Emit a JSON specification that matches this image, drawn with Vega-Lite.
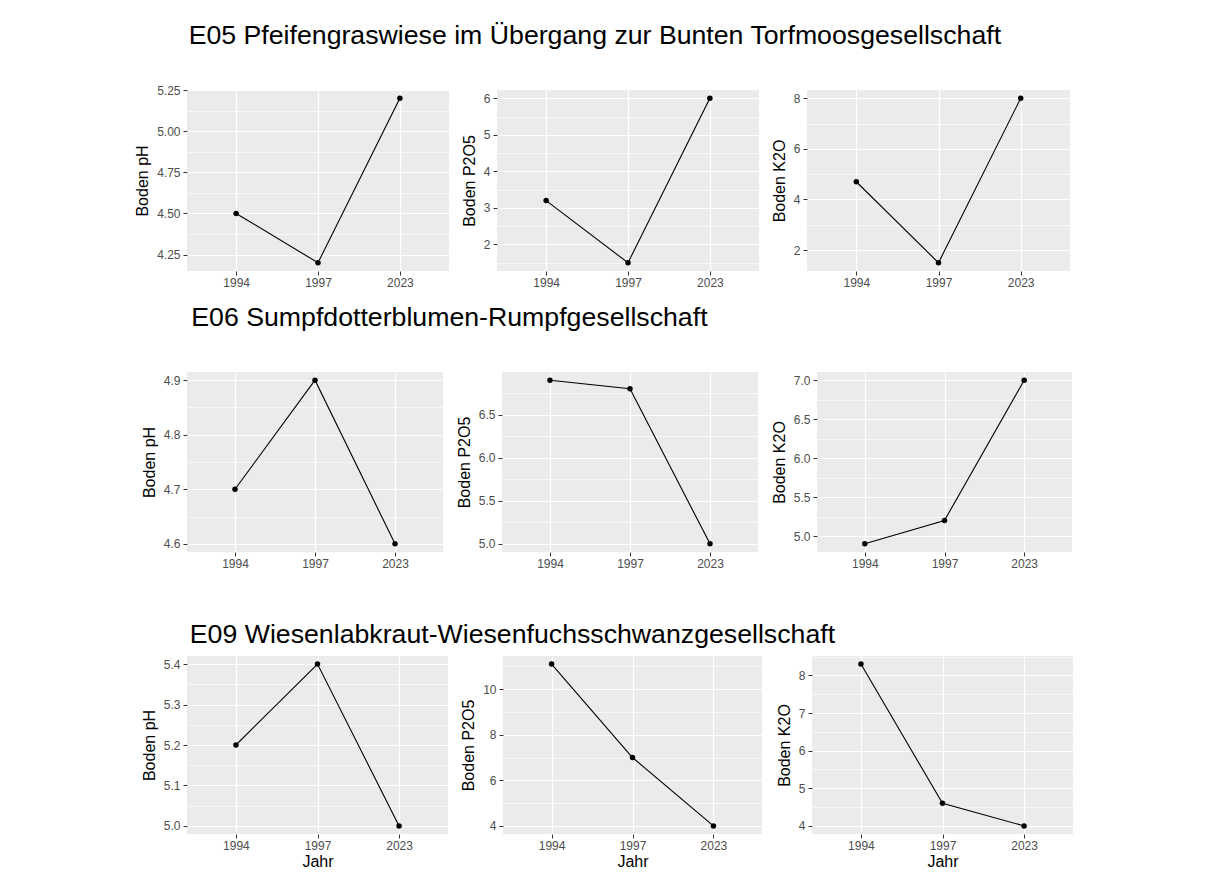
{
  "$schema": "https://vega.github.io/schema/vega-lite/v6.json",
  "background": "white",
  "padding": {"left": 134, "top": 23, "right": 5, "bottom": 5},
  "datasets": {
    "e05": [
      {"Jahr": "1994", "pH": 4.5, "P2O5": 3.2, "K2O": 4.7},
      {"Jahr": "1997", "pH": 4.2, "P2O5": 1.5, "K2O": 1.5},
      {"Jahr": "2023", "pH": 5.2, "P2O5": 6.0, "K2O": 8.0}
    ],
    "e06": [
      {"Jahr": "1994", "pH": 4.7, "P2O5": 6.9, "K2O": 4.9},
      {"Jahr": "1997", "pH": 4.9, "P2O5": 6.8, "K2O": 5.2},
      {"Jahr": "2023", "pH": 4.6, "P2O5": 5.0, "K2O": 7.0}
    ],
    "e09": [
      {"Jahr": "1994", "pH": 5.2, "P2O5": 11.1, "K2O": 8.3},
      {"Jahr": "1997", "pH": 5.4, "P2O5": 7.0, "K2O": 4.6},
      {"Jahr": "2023", "pH": 5.0, "P2O5": 4.0, "K2O": 4.0}
    ]
  },
  "vconcat": [
    {
      "vconcat": [
        {
          "title": {"text": "E05 Pfeifengraswiese im Übergang zur Bunten Torfmoosgesellschaft", "anchor": "start", "fontSize": 26.7, "fontWeight": "normal", "color": "#000000", "offset": 34, "dx": 54},
          "spacing": 12,
          "hconcat": [
            {
              "width": 262, "height": 181,
              "data": {"name": "e05"},
              "encoding": {"x": {"field": "Jahr", "type": "ordinal", "scale": {"type": "point", "padding": 0.6}, "axis": {"title": null, "grid": true}}},
              "layer": [
                {"mark": "line", "encoding": {"y": {"field": "pH", "type": "quantitative", "scale": {"domain": [4.15, 5.25], "zero": false, "nice": false}, "axis": {"title": "Boden pH", "values": [4.25, 4.5, 4.75, 5.0, 5.25], "format": ".2f", "grid": true}}}},
                {"mark": "point", "encoding": {"y": {"field": "pH", "type": "quantitative", "axis": {"orient": "left", "title": null, "values": [4.375, 4.625, 4.875, 5.125], "labels": false, "ticks": false, "domain": false, "grid": true, "gridWidth": 0.6, "minExtent": 0, "maxExtent": 0}}}}
              ],
              "resolve": {"axis": {"y": "independent"}}
            },
            {
              "width": 262, "height": 181,
              "data": {"name": "e05"},
              "encoding": {"x": {"field": "Jahr", "type": "ordinal", "scale": {"type": "point", "padding": 0.6}, "axis": {"title": null, "grid": true}}},
              "layer": [
                {"mark": "line", "encoding": {"y": {"field": "P2O5", "type": "quantitative", "scale": {"domain": [1.275, 6.225], "zero": false, "nice": false}, "axis": {"title": "Boden P2O5", "values": [2, 3, 4, 5, 6], "format": "d", "grid": true}}}},
                {"mark": "point", "encoding": {"y": {"field": "P2O5", "type": "quantitative", "axis": {"orient": "left", "title": null, "values": [1.5, 2.5, 3.5, 4.5, 5.5], "labels": false, "ticks": false, "domain": false, "grid": true, "gridWidth": 0.6, "minExtent": 0, "maxExtent": 0}}}}
              ],
              "resolve": {"axis": {"y": "independent"}}
            },
            {
              "width": 263, "height": 181,
              "data": {"name": "e05"},
              "encoding": {"x": {"field": "Jahr", "type": "ordinal", "scale": {"type": "point", "padding": 0.6}, "axis": {"title": null, "grid": true}}},
              "layer": [
                {"mark": "line", "encoding": {"y": {"field": "K2O", "type": "quantitative", "scale": {"domain": [1.175, 8.325], "zero": false, "nice": false}, "axis": {"title": "Boden K2O", "values": [2, 4, 6, 8], "format": "d", "grid": true}}}},
                {"mark": "point", "encoding": {"y": {"field": "K2O", "type": "quantitative", "axis": {"orient": "left", "title": null, "values": [3, 5, 7], "labels": false, "ticks": false, "domain": false, "grid": true, "gridWidth": 0.6, "minExtent": 0, "maxExtent": 0}}}}
              ],
              "resolve": {"axis": {"y": "independent"}}
            }
          ]
        },
        {
          "title": {"text": "E06 Sumpfdotterblumen-Rumpfgesellschaft", "anchor": "start", "fontSize": 26.7, "fontWeight": "normal", "color": "#000000", "offset": 40, "dx": 50},
          "spacing": 13,
          "hconcat": [
            {
              "width": 256, "height": 180,
              "data": {"name": "e06"},
              "encoding": {"x": {"field": "Jahr", "type": "ordinal", "scale": {"type": "point", "padding": 0.6}, "axis": {"title": null, "grid": true}}},
              "layer": [
                {"mark": "line", "encoding": {"y": {"field": "pH", "type": "quantitative", "scale": {"domain": [4.585, 4.915], "zero": false, "nice": false}, "axis": {"title": "Boden pH", "values": [4.6, 4.7, 4.8, 4.9], "format": ".1f", "grid": true}}}},
                {"mark": "point", "encoding": {"y": {"field": "pH", "type": "quantitative", "axis": {"orient": "left", "title": null, "values": [4.65, 4.75, 4.85], "labels": false, "ticks": false, "domain": false, "grid": true, "gridWidth": 0.6, "minExtent": 0, "maxExtent": 0}}}}
              ],
              "resolve": {"axis": {"y": "independent"}}
            },
            {
              "width": 256, "height": 180,
              "data": {"name": "e06"},
              "encoding": {"x": {"field": "Jahr", "type": "ordinal", "scale": {"type": "point", "padding": 0.6}, "axis": {"title": null, "grid": true}}},
              "layer": [
                {"mark": "line", "encoding": {"y": {"field": "P2O5", "type": "quantitative", "scale": {"domain": [4.905, 6.995], "zero": false, "nice": false}, "axis": {"title": "Boden P2O5", "values": [5.0, 5.5, 6.0, 6.5], "format": ".1f", "grid": true}}}},
                {"mark": "point", "encoding": {"y": {"field": "P2O5", "type": "quantitative", "axis": {"orient": "left", "title": null, "values": [5.25, 5.75, 6.25, 6.75], "labels": false, "ticks": false, "domain": false, "grid": true, "gridWidth": 0.6, "minExtent": 0, "maxExtent": 0}}}}
              ],
              "resolve": {"axis": {"y": "independent"}}
            },
            {
              "width": 255, "height": 180,
              "data": {"name": "e06"},
              "encoding": {"x": {"field": "Jahr", "type": "ordinal", "scale": {"type": "point", "padding": 0.6}, "axis": {"title": null, "grid": true}}},
              "layer": [
                {"mark": "line", "encoding": {"y": {"field": "K2O", "type": "quantitative", "scale": {"domain": [4.795, 7.105], "zero": false, "nice": false}, "axis": {"title": "Boden K2O", "values": [5.0, 5.5, 6.0, 6.5, 7.0], "format": ".1f", "grid": true}}}},
                {"mark": "point", "encoding": {"y": {"field": "K2O", "type": "quantitative", "axis": {"orient": "left", "title": null, "values": [5.25, 5.75, 6.25, 6.75], "labels": false, "ticks": false, "domain": false, "grid": true, "gridWidth": 0.6, "minExtent": 0, "maxExtent": 0}}}}
              ],
              "resolve": {"axis": {"y": "independent"}}
            }
          ]
        }
      ],
      "spacing": 17
    },
    {
      "title": {"text": "E09 Wiesenlabkraut-Wiesenfuchsschwanzgesellschaft", "anchor": "start", "fontSize": 26.7, "fontWeight": "normal", "color": "#000000", "offset": 7, "dx": 48.5},
      "spacing": 14,
      "hconcat": [
        {
          "spacing": 12,
          "hconcat": [
            {
              "width": 261, "height": 178,
              "data": {"name": "e09"},
              "encoding": {"x": {"field": "Jahr", "type": "ordinal", "scale": {"type": "point", "padding": 0.6}, "axis": {"title": "Jahr", "grid": true}}},
              "layer": [
                {"mark": "line", "encoding": {"y": {"field": "pH", "type": "quantitative", "scale": {"domain": [4.98, 5.42], "zero": false, "nice": false}, "axis": {"title": "Boden pH", "values": [5.0, 5.1, 5.2, 5.3, 5.4], "format": ".1f", "grid": true}}}},
                {"mark": "point", "encoding": {"y": {"field": "pH", "type": "quantitative", "axis": {"orient": "left", "title": null, "values": [5.05, 5.15, 5.25, 5.35], "labels": false, "ticks": false, "domain": false, "grid": true, "gridWidth": 0.6, "minExtent": 0, "maxExtent": 0}}}}
              ],
              "resolve": {"axis": {"y": "independent"}}
            },
            {
              "width": 259, "height": 178,
              "data": {"name": "e09"},
              "encoding": {"x": {"field": "Jahr", "type": "ordinal", "scale": {"type": "point", "padding": 0.6}, "axis": {"title": "Jahr", "grid": true}}},
              "layer": [
                {"mark": "line", "encoding": {"y": {"field": "P2O5", "type": "quantitative", "scale": {"domain": [3.645, 11.455], "zero": false, "nice": false}, "axis": {"title": "Boden P2O5", "values": [4, 6, 8, 10], "format": "d", "grid": true}}}},
                {"mark": "point", "encoding": {"y": {"field": "P2O5", "type": "quantitative", "axis": {"orient": "left", "title": null, "values": [5, 7, 9, 11], "labels": false, "ticks": false, "domain": false, "grid": true, "gridWidth": 0.6, "minExtent": 0, "maxExtent": 0}}}}
              ],
              "resolve": {"axis": {"y": "independent"}}
            }
          ]
        },
        {
          "width": 261, "height": 178,
          "data": {"name": "e09"},
          "encoding": {"x": {"field": "Jahr", "type": "ordinal", "scale": {"type": "point", "padding": 0.6}, "axis": {"title": "Jahr", "grid": true}}},
          "layer": [
            {"mark": "line", "encoding": {"y": {"field": "K2O", "type": "quantitative", "scale": {"domain": [3.785, 8.515], "zero": false, "nice": false}, "axis": {"title": "Boden K2O", "values": [4, 5, 6, 7, 8], "format": "d", "grid": true}}}},
            {"mark": "point", "encoding": {"y": {"field": "K2O", "type": "quantitative", "axis": {"orient": "left", "title": null, "values": [4.5, 5.5, 6.5, 7.5, 8.5], "labels": false, "ticks": false, "domain": false, "grid": true, "gridWidth": 0.6, "minExtent": 0, "maxExtent": 0}}}}
          ],
          "resolve": {"axis": {"y": "independent"}}
        }
      ]
    }
  ],
  "spacing": 53,
  "config": {
    "font": "Liberation Sans",
    "view": {"fill": "#EBEBEB", "stroke": null},
    "axis": {"domain": false, "tickColor": "#333333", "tickSize": 4, "tickWidth": 1, "labelColor": "#4D4D4D", "labelFontSize": 12, "labelFont": "Liberation Sans", "titleFont": "Liberation Sans", "titleFontSize": 16, "titleFontWeight": "normal", "titleColor": "#000000", "gridColor": "#FFFFFF", "gridWidth": 1.2, "labelPadding": 2, "titlePadding": 3},
    "axisY": {"labelPadding": 3, "titlePadding": 6},
    "axisX": {"labelAngle": 0, "titlePadding": 2},
    "line": {"color": "#000000", "strokeWidth": 1.1},
    "point": {"color": "#000000", "filled": true, "size": 30, "opacity": 1},
    "title": {"font": "Liberation Sans"}
  }
}
